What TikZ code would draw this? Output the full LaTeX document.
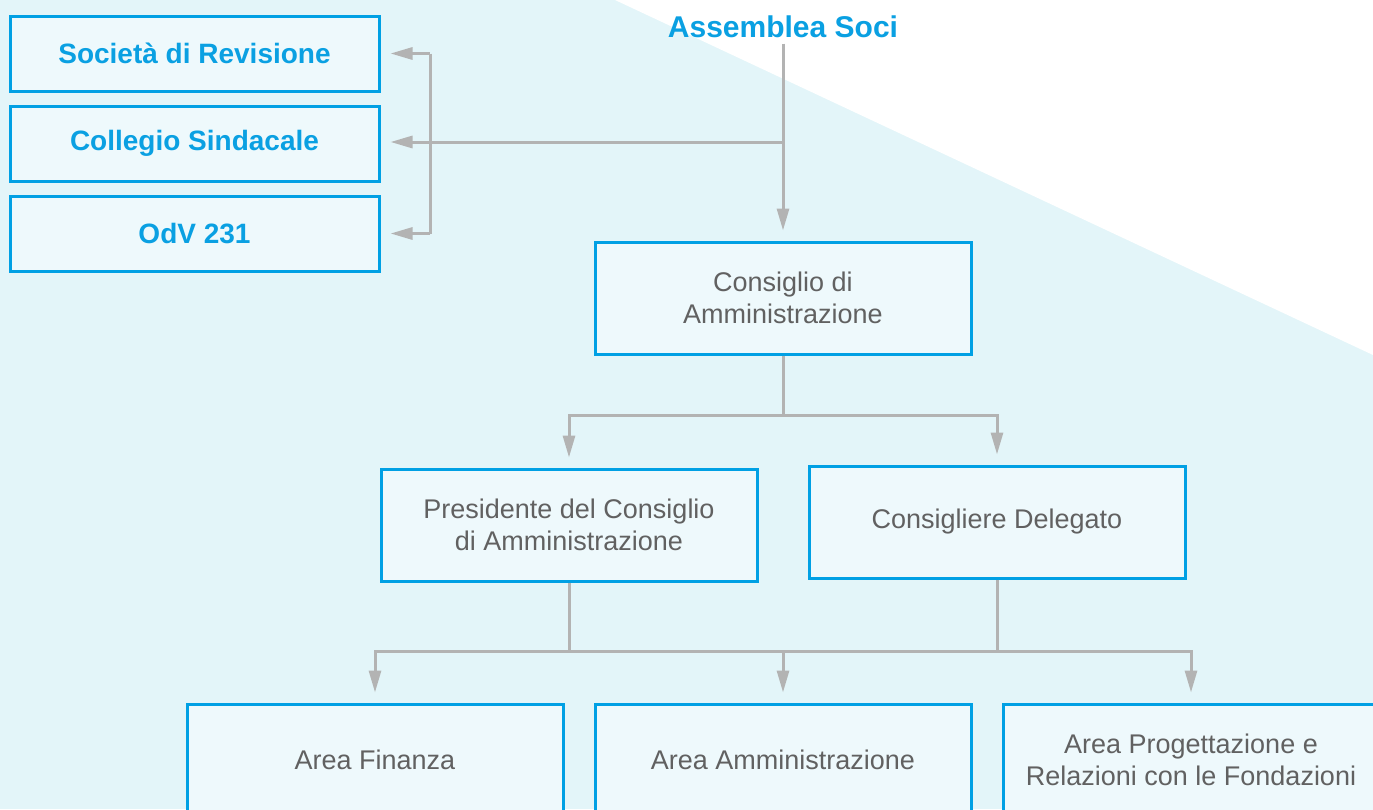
\documentclass[tikz,border=0pt]{standalone}
\usepackage{fontspec}
\setmainfont{Liberation Sans}
\usetikzlibrary{arrows.meta,calc}
\definecolor{bgc}{HTML}{E3F5F9}
\definecolor{boxfill}{HTML}{EEF9FC}
\definecolor{boxline}{HTML}{00A0E4}
\definecolor{conng}{HTML}{B3B3B3}
\definecolor{txtg}{HTML}{616161}
\definecolor{txtb}{HTML}{0AA0E2}
\tikzset{
  bluebox/.style={draw=boxline, line width=3pt, fill=boxfill, minimum width=369pt, minimum height=75pt, inner sep=0pt, text=txtb, font=\fontsize{28}{32}\selectfont\bfseries},
  graybox/.style={draw=boxline, line width=3pt, fill=boxfill, minimum width=376pt, minimum height=112pt, inner sep=0pt, text=txtg, align=center, font=\fontsize{27}{32}\selectfont},
  conn/.style={draw=conng, line width=3pt},
  arr/.style={conn, -{Triangle[length=22pt,width=12pt]}, shorten >=10pt},
}
\begin{document}
\begin{tikzpicture}[x=1pt,y=-1pt]
\useasboundingbox (0,0) rectangle (1373,809);
\clip (0,0) rectangle (1373,809);
\fill[bgc] (0,0) rectangle (1373,809);
\fill[white] (615,0) -- (1373,0) -- (1373,355) -- cycle;

\node[text=txtb, font=\fontsize{30}{34}\selectfont\bfseries] (as) at (783,27) {Assemblea Soci};
\node[bluebox] (sr) at (194.5,53.5) {Società di Revisione};
\node[bluebox] (cs) at (194.5,143.5) {Collegio Sindacale};
\node[bluebox] (odv) at (194.5,233.5) {OdV 231};

\node[graybox] (cda) at (783,298) {Consiglio di\\Amministrazione};
\node[graybox] (pres) at (569,525) {Presidente del Consiglio\\di Amministrazione};
\node[graybox] (cons) at (997,522) {Consigliere Delegato};

\node[graybox] (fin) at (375,760) {Area Finanza};
\node[graybox] (amm) at (783,760) {Area Amministrazione};
\node[graybox] (prog) at (1191,760) {Area Progettazione e\\Relazioni con le Fondazioni};

% top connectors
\coordinate (j1) at (783,142);
\coordinate (bus) at (430,142);
\draw[arr] ($(as.south)+(0,2)$) -- (cda.north);
\draw[arr] (j1) -- (cs.east |- j1);
\draw[conn] (bus |- sr.east) -- (bus |- odv.east);
\draw[arr] (bus |- sr.east) -- (sr.east);
\draw[arr] (bus |- odv.east) -- (odv.east);

% middle
\coordinate (j2) at (783,415);
\draw[conn] (cda.south) -- (j2);
\draw[arr] (j2) -| (pres.north);
\draw[arr] (j2) -| (cons.north);

% bottom
\coordinate (j3) at (783,651);
\draw[conn] (pres.south) -- (pres.south |- j3);
\draw[conn] (cons.south) -- (cons.south |- j3);
\draw[arr] (j3) -| (fin.north);
\draw[arr] (j3) -- (amm.north);
\draw[arr] (j3) -| (prog.north);
\end{tikzpicture}
\end{document}
